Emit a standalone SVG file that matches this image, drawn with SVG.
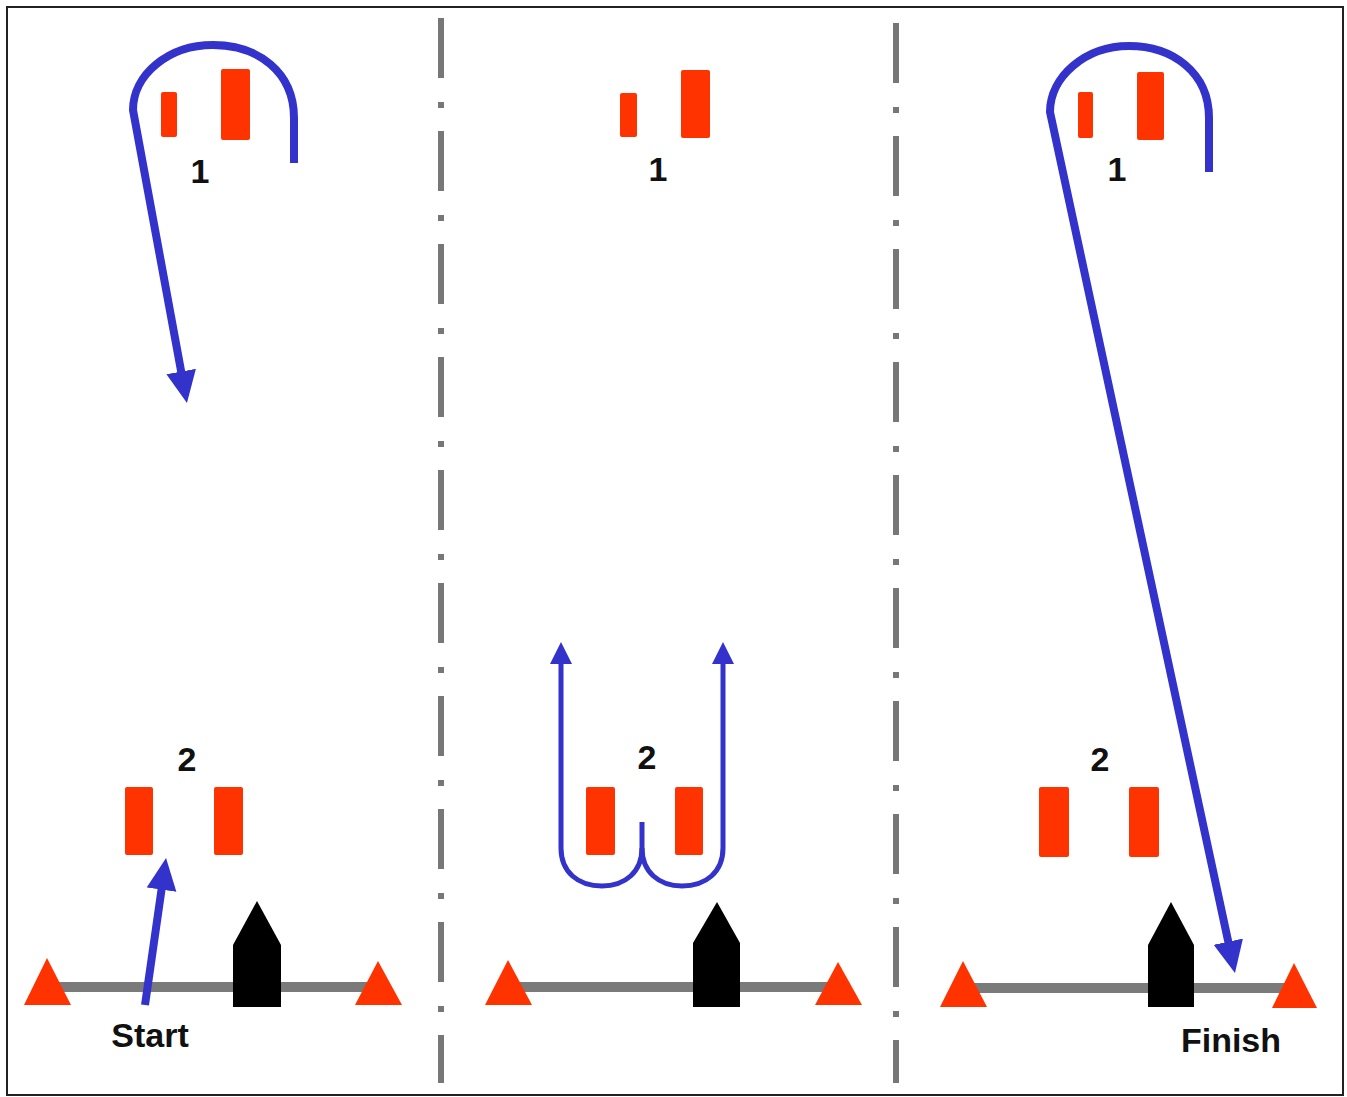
<svg xmlns="http://www.w3.org/2000/svg" width="1347" height="1097" viewBox="0 0 1347 1097">
<style>
.frame{fill:#fff;stroke:#222;stroke-width:2}
.div{stroke:#777;stroke-width:6;stroke-dasharray:60 24 6 23;fill:none}
.cone{fill:#FF3300}
.tri{fill:#FF3300}
.base{stroke:#7a7a7a;stroke-width:10;fill:none}
.boat{fill:#000}
.route{fill:none;stroke:#3333CC;stroke-width:8;stroke-linejoin:round}
.route2{fill:none;stroke:#3333CC;stroke-width:5}
.lbl{font-family:"Liberation Sans",Arial,sans-serif;font-weight:bold;font-size:34px;fill:#111;text-anchor:middle}
.word{font-family:"Liberation Sans",Arial,sans-serif;font-weight:bold;font-size:34px;fill:#111;text-anchor:middle}
</style>
<defs>
<marker id="ah" markerUnits="userSpaceOnUse" markerWidth="34" markerHeight="32" refX="14" refY="15" orient="auto">
<path d="M0,0 L32,15 L0,30 z" fill="#3333CC"/>
</marker>
<marker id="ah2" markerUnits="userSpaceOnUse" markerWidth="24" markerHeight="24" refX="11" refY="11" orient="auto">
<path d="M0,0 L22,11 L0,22 z" fill="#3333CC"/>
</marker>
</defs>
<rect class="frame" x="7" y="7" width="1336" height="1088"/>
<g id="dividers">
<line class="div" x1="441" y1="18" x2="441" y2="1083"/>
<line class="div" x1="896" y1="23" x2="896" y2="1083"/>
</g>
<g id="panel1">
<g id="p1-gate1">
<rect class="cone" x="161" y="92" width="16" height="45" rx="2"/>
<rect class="cone" x="221" y="69" width="29" height="71" rx="2"/>
<text class="lbl" x="200" y="183">1</text>
</g>
<g id="p1-gate2">
<rect class="cone" x="125" y="787" width="28" height="68" rx="2"/>
<rect class="cone" x="214" y="787" width="29" height="68" rx="2"/>
<text class="lbl" x="187" y="771">2</text>
</g>
<g id="p1-line">
<line class="base" x1="50" y1="987" x2="370" y2="987"/>
<polygon class="tri" points="47,958 24,1005 71,1005"/>
<polygon class="tri" points="378,961 355,1005 402,1005"/>
<polygon class="boat" points="257,901 281,945 281,1007 233,1007 233,945"/>
</g>
<text class="word" x="150" y="1047">Start</text>
</g>
<g id="panel2">
<g id="p2-gate1">
<rect class="cone" x="620" y="93" width="17" height="44" rx="2"/>
<rect class="cone" x="681" y="70" width="29" height="68" rx="2"/>
<text class="lbl" x="658" y="181">1</text>
</g>
<g id="p2-gate2">
<rect class="cone" x="586" y="787" width="29" height="68" rx="2"/>
<rect class="cone" x="675" y="787" width="28" height="68" rx="2"/>
<text class="lbl" x="647" y="769">2</text>
</g>
<g id="p2-line">
<line class="base" x1="510" y1="987" x2="835" y2="987"/>
<polygon class="tri" points="508,960 485,1005 532,1005"/>
<polygon class="tri" points="838,962 815,1005 862,1005"/>
<polygon class="boat" points="717,902 740,943 740,1007 693,1007 693,943"/>
</g>
</g>
<g id="panel3">
<g id="p3-gate1">
<rect class="cone" x="1078" y="92" width="15" height="46" rx="2"/>
<rect class="cone" x="1137" y="72" width="27" height="68" rx="2"/>
<text class="lbl" x="1117" y="181">1</text>
</g>
<g id="p3-gate2">
<rect class="cone" x="1039" y="787" width="30" height="70" rx="2"/>
<rect class="cone" x="1129" y="787" width="30" height="70" rx="2"/>
<text class="lbl" x="1100" y="771">2</text>
</g>
<g id="p3-line">
<line class="base" x1="965" y1="988" x2="1292" y2="988"/>
<polygon class="tri" points="963,961 940,1007 987,1007"/>
<polygon class="tri" points="1294,963 1272,1008 1317,1008"/>
<polygon class="boat" points="1171,902 1194,945 1194,1007 1148,1007 1148,945"/>
</g>
<text class="word" x="1231" y="1052">Finish</text>
</g>
<g id="connectors">
<path class="route" marker-end="url(#ah)" d="M294,163 L294,118 C294,72 258,45 213,45 C168,45 133,75 133,110 L183.7,385.3"/>
<path class="route" marker-end="url(#ah)" d="M145,1005 L163.5,875.8"/>
<path class="route" marker-end="url(#ah)" d="M1209,172 L1209,118 C1209,72 1172,46 1129,46 C1085,46 1050,77 1050,112 L1231.2,955.4"/>
<path class="route2" marker-end="url(#ah2)" d="M642,822 L642,848 C642,872 625,886 602,886 C578,886 561,872 561,848 L561,653"/>
<path class="route2" marker-end="url(#ah2)" d="M642,848 C642,872 659,886 682,886 C706,886 723,872 723,848 L723,653"/>
</g>
</svg>
